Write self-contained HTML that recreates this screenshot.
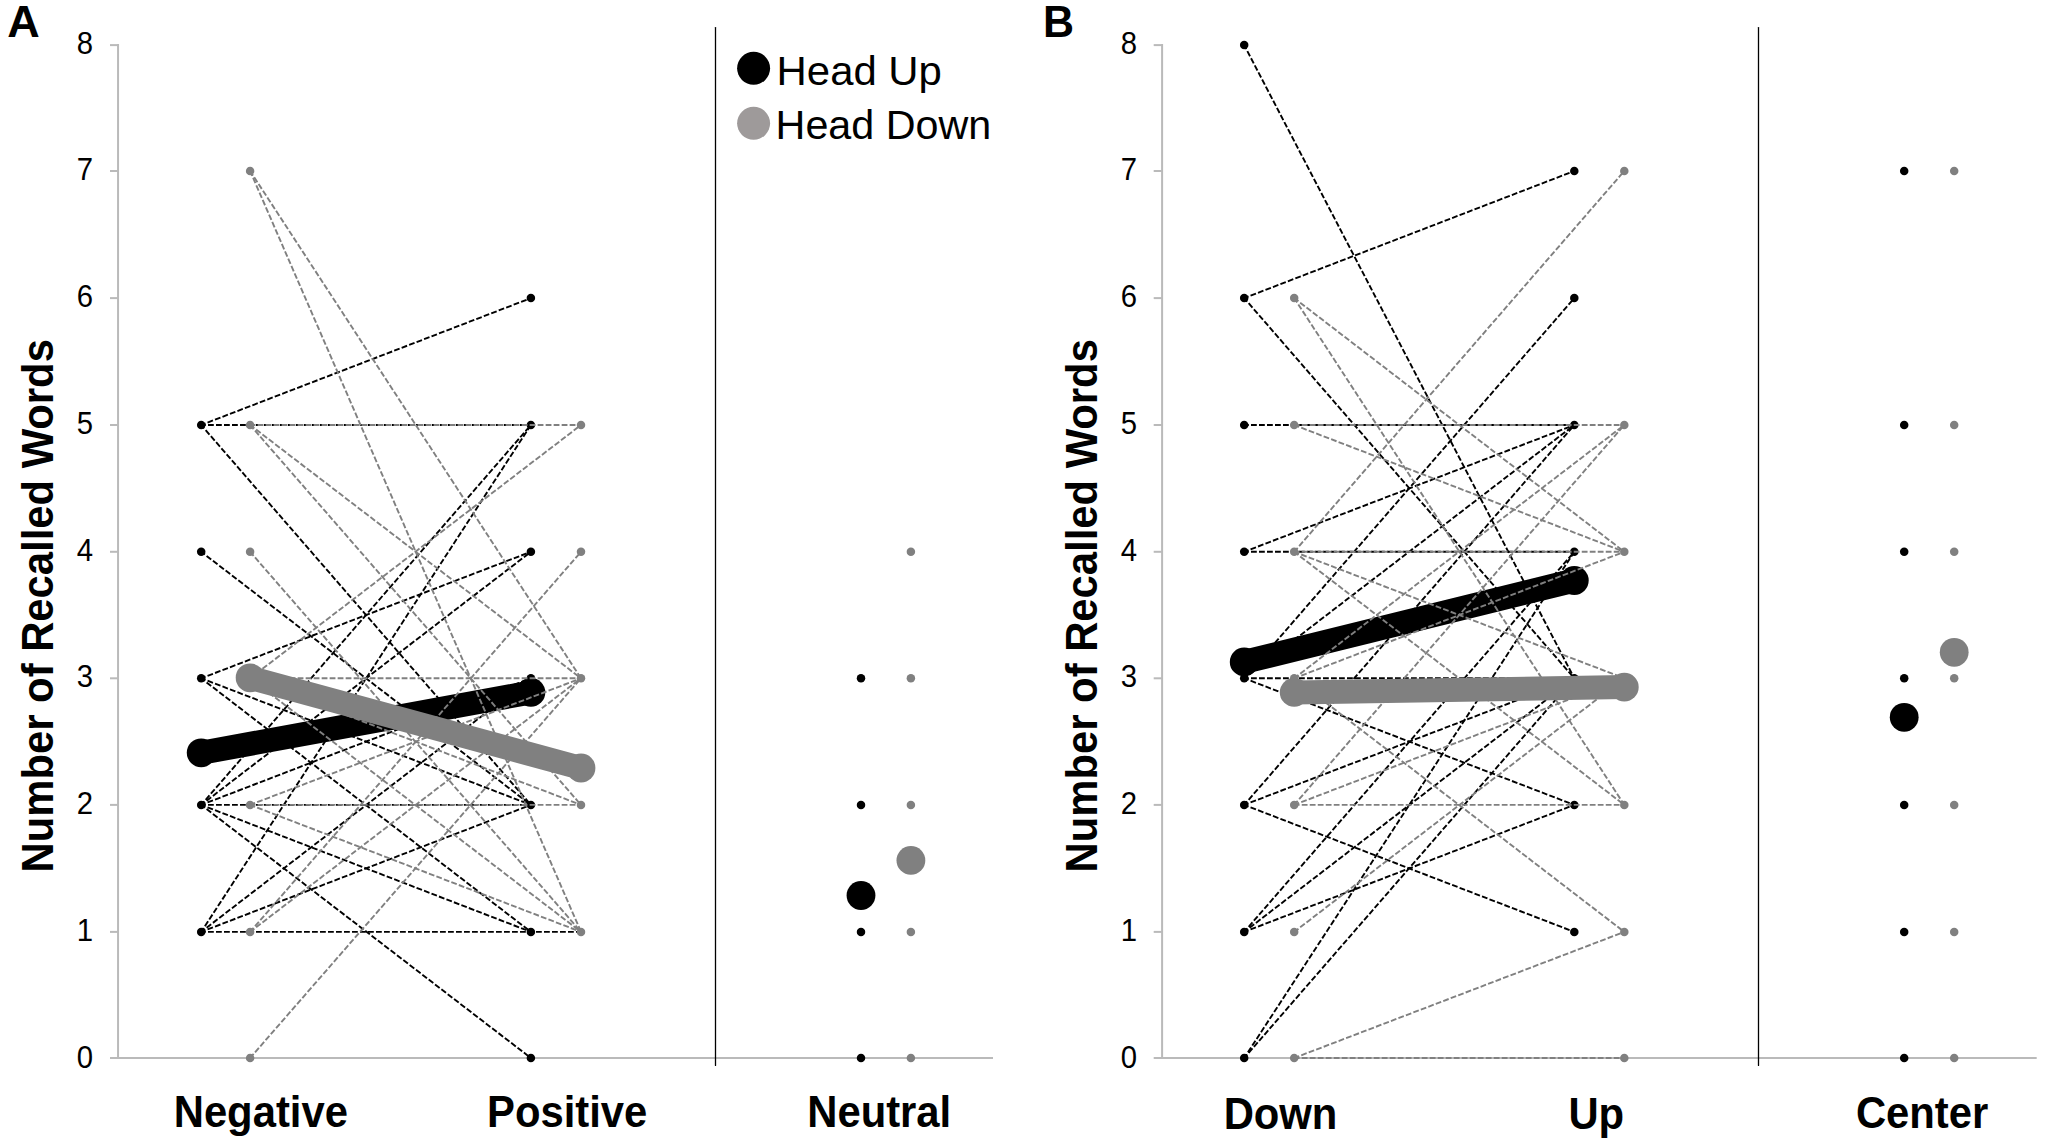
<!DOCTYPE html>
<html lang="en">
<head>
<meta charset="utf-8">
<title>Number of Recalled Words</title>
<style>
html,body{margin:0;padding:0;background:#fff}
body{width:2060px;height:1143px;overflow:hidden}
svg{display:block}
</style>
</head>
<body>
<svg width="2060" height="1143" viewBox="0 0 2060 1143">
<rect width="2060" height="1143" fill="#fff"/>
<g stroke="#bababa" stroke-width="2" fill="none">
<path d="M118.05 44.1V1058"/>
<path d="M110 1058H993"/>
<path d="M110 931.9H118.05"/>
<path d="M110 804.9H118.05"/>
<path d="M110 678.3H118.05"/>
<path d="M110 551.8H118.05"/>
<path d="M110 425H118.05"/>
<path d="M110 298.1H118.05"/>
<path d="M110 171H118.05"/>
<path d="M110 45.1H118.05"/>
</g>
<path d="M715.5 27.6V1065.4" stroke="#000" stroke-width="1.3" stroke-linecap="round"/>
<g stroke="#000000" stroke-width="1.9" stroke-dasharray="5.8 2.2" stroke-dashoffset="1.2" fill="none">
<path d="M201.2 425L530.9 298.1"/>
<path d="M201.2 425L530.9 425"/>
<path d="M201.2 425L530.9 804.9"/>
<path d="M201.2 551.8L530.9 804.9"/>
<path d="M201.2 678.3L530.9 551.8"/>
<path d="M201.2 678.3L530.9 804.9"/>
<path d="M201.2 678.3L530.9 931.9"/>
<path d="M201.2 804.9L530.9 425"/>
<path d="M201.2 804.9L530.9 551.8"/>
<path d="M201.2 804.9L530.9 678.3"/>
<path d="M201.2 804.9L530.9 804.9"/>
<path d="M201.2 804.9L530.9 931.9"/>
<path d="M201.2 804.9L530.9 1058"/>
<path d="M201.2 931.9L530.9 425"/>
<path d="M201.2 931.9L530.9 678.3"/>
<path d="M201.2 931.9L530.9 804.9"/>
<path d="M201.2 931.9L581 931.9"/>
</g>
<g fill="#000000">
<circle cx="201.2" cy="931.9" r="4.25"/>
<circle cx="201.2" cy="804.9" r="4.25"/>
<circle cx="201.2" cy="678.3" r="4.25"/>
<circle cx="201.2" cy="551.8" r="4.25"/>
<circle cx="201.2" cy="425" r="4.25"/>
<circle cx="530.9" cy="1058" r="4.25"/>
<circle cx="530.9" cy="931.9" r="4.25"/>
<circle cx="530.9" cy="804.9" r="4.25"/>
<circle cx="530.9" cy="678.3" r="4.25"/>
<circle cx="530.9" cy="551.8" r="4.25"/>
<circle cx="530.9" cy="425" r="4.25"/>
<circle cx="530.9" cy="298.1" r="4.25"/>
</g>
<path d="M201.2 752.8L530.9 692.4" stroke="#000000" stroke-width="24" stroke-linecap="round" fill="none"/>
<circle cx="201.2" cy="752.8" r="14.4" fill="#000000"/>
<circle cx="530.9" cy="692.4" r="14.4" fill="#000000"/>
<g stroke="#808080" stroke-width="1.9" stroke-dasharray="5.8 2.2" stroke-dashoffset="0.45" fill="none">
<path d="M250.1 171L581 678.3"/>
<path d="M250.1 171L581 931.9"/>
<path d="M250.1 425L581 425"/>
<path d="M250.1 425L581 678.3"/>
<path d="M250.1 425L581 804.9"/>
<path d="M250.1 551.8L581 931.9"/>
<path d="M250.1 678.3L581 425"/>
<path d="M250.1 678.3L581 678.3"/>
<path d="M250.1 678.3L581 931.9"/>
<path d="M250.1 678.3L581 804.9"/>
<path d="M250.1 804.9L581 678.3"/>
<path d="M250.1 804.9L581 804.9"/>
<path d="M250.1 804.9L581 931.9"/>
<path d="M250.1 931.9L581 551.8"/>
<path d="M250.1 931.9L581 678.3"/>
<path d="M250.1 1058L581 678.3"/>
</g>
<g fill="#808080">
<circle cx="250.1" cy="1058" r="4.25"/>
<circle cx="250.1" cy="931.9" r="4.25"/>
<circle cx="250.1" cy="804.9" r="4.25"/>
<circle cx="250.1" cy="678.3" r="4.25"/>
<circle cx="250.1" cy="551.8" r="4.25"/>
<circle cx="250.1" cy="425" r="4.25"/>
<circle cx="250.1" cy="171" r="4.25"/>
<circle cx="581" cy="931.9" r="4.25"/>
<circle cx="581" cy="804.9" r="4.25"/>
<circle cx="581" cy="678.3" r="4.25"/>
<circle cx="581" cy="551.8" r="4.25"/>
<circle cx="581" cy="425" r="4.25"/>
</g>
<path d="M250.1 677.8L581 768" stroke="#808080" stroke-width="24" stroke-linecap="round" fill="none"/>
<circle cx="250.1" cy="677.8" r="14.4" fill="#808080"/>
<circle cx="581" cy="768" r="14.4" fill="#808080"/>
<g fill="#000000">
<circle cx="861" cy="1058" r="4.25"/>
<circle cx="861" cy="931.9" r="4.25"/>
<circle cx="861" cy="804.9" r="4.25"/>
<circle cx="861" cy="678.3" r="4.25"/>
<circle cx="861" cy="895.5" r="14.4"/>
</g>
<g fill="#808080">
<circle cx="910.9" cy="1058" r="4.25"/>
<circle cx="910.9" cy="931.9" r="4.25"/>
<circle cx="910.9" cy="804.9" r="4.25"/>
<circle cx="910.9" cy="678.3" r="4.25"/>
<circle cx="910.9" cy="551.8" r="4.25"/>
<circle cx="910.9" cy="860.4" r="14.4"/>
</g>
<g stroke="#bababa" stroke-width="2" fill="none">
<path d="M1162.1 44.1V1058"/>
<path d="M1153.7 1058H2036.7"/>
<path d="M1153.7 931.9H1162.1"/>
<path d="M1153.7 804.9H1162.1"/>
<path d="M1153.7 678.3H1162.1"/>
<path d="M1153.7 551.8H1162.1"/>
<path d="M1153.7 425H1162.1"/>
<path d="M1153.7 298.1H1162.1"/>
<path d="M1153.7 171H1162.1"/>
<path d="M1153.7 45.1H1162.1"/>
</g>
<path d="M1758.5 27.6V1065.4" stroke="#000" stroke-width="1.3" stroke-linecap="round"/>
<g stroke="#000000" stroke-width="1.9" stroke-dasharray="5.8 2.2" stroke-dashoffset="1.2" fill="none">
<path d="M1244.2 45.1L1574.3 678.3"/>
<path d="M1244.2 298.1L1574.3 171"/>
<path d="M1244.2 298.1L1574.3 678.3"/>
<path d="M1244.2 425L1574.3 425"/>
<path d="M1244.2 551.8L1574.3 425"/>
<path d="M1244.2 551.8L1574.3 551.8"/>
<path d="M1244.2 678.3L1574.3 298.1"/>
<path d="M1244.2 678.3L1574.3 425"/>
<path d="M1244.2 678.3L1574.3 678.3"/>
<path d="M1244.2 678.3L1574.3 804.9"/>
<path d="M1244.2 804.9L1574.3 425"/>
<path d="M1244.2 804.9L1574.3 678.3"/>
<path d="M1244.2 804.9L1574.3 931.9"/>
<path d="M1244.2 931.9L1574.3 551.8"/>
<path d="M1244.2 931.9L1574.3 678.3"/>
<path d="M1244.2 931.9L1574.3 804.9"/>
<path d="M1244.2 1058L1574.3 551.8"/>
<path d="M1244.2 1058L1574.3 678.3"/>
</g>
<g fill="#000000">
<circle cx="1244.2" cy="1058" r="4.25"/>
<circle cx="1244.2" cy="931.9" r="4.25"/>
<circle cx="1244.2" cy="804.9" r="4.25"/>
<circle cx="1244.2" cy="678.3" r="4.25"/>
<circle cx="1244.2" cy="551.8" r="4.25"/>
<circle cx="1244.2" cy="425" r="4.25"/>
<circle cx="1244.2" cy="298.1" r="4.25"/>
<circle cx="1244.2" cy="45.1" r="4.25"/>
<circle cx="1574.3" cy="931.9" r="4.25"/>
<circle cx="1574.3" cy="804.9" r="4.25"/>
<circle cx="1574.3" cy="678.3" r="4.25"/>
<circle cx="1574.3" cy="551.8" r="4.25"/>
<circle cx="1574.3" cy="425" r="4.25"/>
<circle cx="1574.3" cy="298.1" r="4.25"/>
<circle cx="1574.3" cy="171" r="4.25"/>
</g>
<path d="M1244.2 661.9L1574.3 580.5" stroke="#000000" stroke-width="24" stroke-linecap="round" fill="none"/>
<circle cx="1244.2" cy="661.9" r="14.4" fill="#000000"/>
<circle cx="1574.3" cy="580.5" r="14.4" fill="#000000"/>
<g stroke="#808080" stroke-width="1.9" stroke-dasharray="5.8 2.2" stroke-dashoffset="0.45" fill="none">
<path d="M1294.2 298.1L1624.3 551.8"/>
<path d="M1294.2 298.1L1624.3 804.9"/>
<path d="M1294.2 425L1624.3 425"/>
<path d="M1294.2 425L1624.3 551.8"/>
<path d="M1294.2 551.8L1624.3 171"/>
<path d="M1294.2 551.8L1624.3 551.8"/>
<path d="M1294.2 551.8L1624.3 678.3"/>
<path d="M1294.2 551.8L1624.3 804.9"/>
<path d="M1294.2 678.3L1624.3 425"/>
<path d="M1294.2 678.3L1624.3 551.8"/>
<path d="M1294.2 678.3L1624.3 931.9"/>
<path d="M1294.2 804.9L1624.3 425"/>
<path d="M1294.2 804.9L1624.3 678.3"/>
<path d="M1294.2 804.9L1624.3 804.9"/>
<path d="M1294.2 931.9L1624.3 678.3"/>
<path d="M1294.2 1058L1624.3 931.9"/>
<path d="M1294.2 1058L1624.3 1058"/>
</g>
<g fill="#808080">
<circle cx="1294.2" cy="1058" r="4.25"/>
<circle cx="1294.2" cy="931.9" r="4.25"/>
<circle cx="1294.2" cy="804.9" r="4.25"/>
<circle cx="1294.2" cy="678.3" r="4.25"/>
<circle cx="1294.2" cy="551.8" r="4.25"/>
<circle cx="1294.2" cy="425" r="4.25"/>
<circle cx="1294.2" cy="298.1" r="4.25"/>
<circle cx="1624.3" cy="1058" r="4.25"/>
<circle cx="1624.3" cy="931.9" r="4.25"/>
<circle cx="1624.3" cy="804.9" r="4.25"/>
<circle cx="1624.3" cy="678.3" r="4.25"/>
<circle cx="1624.3" cy="551.8" r="4.25"/>
<circle cx="1624.3" cy="425" r="4.25"/>
<circle cx="1624.3" cy="171" r="4.25"/>
</g>
<path d="M1294.2 692.4L1624.3 687.1" stroke="#808080" stroke-width="24" stroke-linecap="round" fill="none"/>
<circle cx="1294.2" cy="692.4" r="14.4" fill="#808080"/>
<circle cx="1624.3" cy="687.1" r="14.4" fill="#808080"/>
<g fill="#000000">
<circle cx="1904.2" cy="1058" r="4.25"/>
<circle cx="1904.2" cy="931.9" r="4.25"/>
<circle cx="1904.2" cy="804.9" r="4.25"/>
<circle cx="1904.2" cy="678.3" r="4.25"/>
<circle cx="1904.2" cy="551.8" r="4.25"/>
<circle cx="1904.2" cy="425" r="4.25"/>
<circle cx="1904.2" cy="171" r="4.25"/>
<circle cx="1904.2" cy="717.3" r="14.4"/>
</g>
<g fill="#808080">
<circle cx="1954.2" cy="1058" r="4.25"/>
<circle cx="1954.2" cy="931.9" r="4.25"/>
<circle cx="1954.2" cy="804.9" r="4.25"/>
<circle cx="1954.2" cy="678.3" r="4.25"/>
<circle cx="1954.2" cy="551.8" r="4.25"/>
<circle cx="1954.2" cy="425" r="4.25"/>
<circle cx="1954.2" cy="171" r="4.25"/>
<circle cx="1954.2" cy="652.3" r="14.4"/>
</g>
<g font-family="'Liberation Sans', Arial, sans-serif" fill="#000">
<g>
<text transform="translate(93.15 1067.7) scale(1 1.07)" font-size="29.3" text-anchor="end">0</text>
<text transform="translate(93.15 940.93) scale(1 1.07)" font-size="29.3" text-anchor="end">1</text>
<text transform="translate(93.15 814.15) scale(1 1.07)" font-size="29.3" text-anchor="end">2</text>
<text transform="translate(93.15 687.38) scale(1 1.07)" font-size="29.3" text-anchor="end">3</text>
<text transform="translate(93.15 560.6) scale(1 1.07)" font-size="29.3" text-anchor="end">4</text>
<text transform="translate(93.15 433.83) scale(1 1.07)" font-size="29.3" text-anchor="end">5</text>
<text transform="translate(93.15 307.05) scale(1 1.07)" font-size="29.3" text-anchor="end">6</text>
<text transform="translate(93.15 180.27) scale(1 1.07)" font-size="29.3" text-anchor="end">7</text>
<text transform="translate(93.15 53.5) scale(1 1.07)" font-size="29.3" text-anchor="end">8</text>
<text transform="translate(1136.95 1067.7) scale(1 1.07)" font-size="29.3" text-anchor="end">0</text>
<text transform="translate(1136.95 940.93) scale(1 1.07)" font-size="29.3" text-anchor="end">1</text>
<text transform="translate(1136.95 814.15) scale(1 1.07)" font-size="29.3" text-anchor="end">2</text>
<text transform="translate(1136.95 687.38) scale(1 1.07)" font-size="29.3" text-anchor="end">3</text>
<text transform="translate(1136.95 560.6) scale(1 1.07)" font-size="29.3" text-anchor="end">4</text>
<text transform="translate(1136.95 433.83) scale(1 1.07)" font-size="29.3" text-anchor="end">5</text>
<text transform="translate(1136.95 307.05) scale(1 1.07)" font-size="29.3" text-anchor="end">6</text>
<text transform="translate(1136.95 180.27) scale(1 1.07)" font-size="29.3" text-anchor="end">7</text>
<text transform="translate(1136.95 53.5) scale(1 1.07)" font-size="29.3" text-anchor="end">8</text>
</g>
<g font-weight="bold">
<text transform="translate(7.3 36.8)" font-size="45">A</text>
<text transform="translate(1042.9 36.8) scale(1 1.047)" font-size="43">B</text>
<text transform="translate(260.8 1127.3) scale(1 1.05)" font-size="41.8" text-anchor="middle">Negative</text>
<text transform="translate(567.2 1127.3) scale(1 1.05)" font-size="41.8" text-anchor="middle">Positive</text>
<text transform="translate(879.2 1127) scale(1 1.05)" font-size="41.8" text-anchor="middle">Neutral</text>
<text transform="translate(1280.5 1128.6) scale(1 1.05)" font-size="41.8" text-anchor="middle">Down</text>
<text transform="translate(1596.3 1128.6) scale(1 1.05)" font-size="41.8" text-anchor="middle">Up</text>
<text transform="translate(1922.1 1127.6) scale(1 1.05)" font-size="41.8" text-anchor="middle">Center</text>
<text transform="translate(52.9 605.75) rotate(-90) scale(1 1.05)" font-size="41.8" text-anchor="middle">Number of Recalled Words</text>
<text transform="translate(1097.1 605.75) rotate(-90) scale(1 1.05)" font-size="41.8" text-anchor="middle">Number of Recalled Words</text>
</g>
<circle cx="753.6" cy="68.3" r="16.5" fill="#000"/>
<circle cx="753.6" cy="123.3" r="16.5" fill="#9e9a9a"/>
<text transform="translate(776.6 84.6) scale(1 0.965)" font-size="41.9">Head Up</text>
<text transform="translate(775.6 138.6) scale(1 0.975)" font-size="41.3">Head Down</text>
</g>
</svg>
</body>
</html>
